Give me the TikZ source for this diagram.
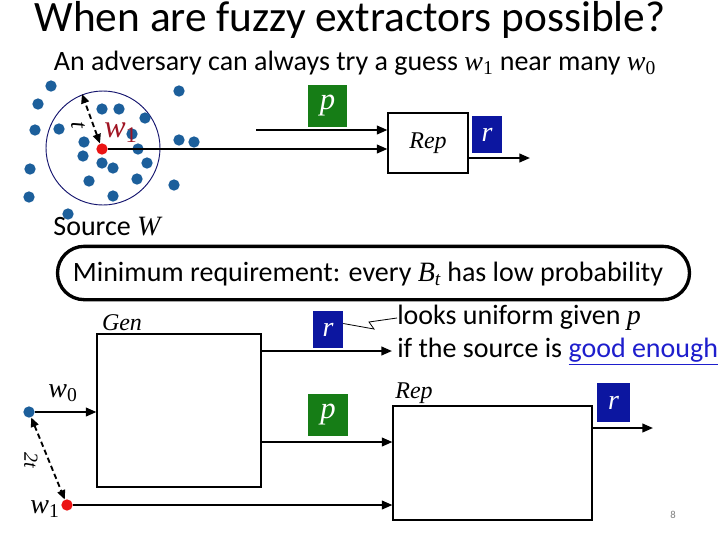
\documentclass[tikz,border=0pt]{standalone}
\usepackage{fontspec}
\setmainfont{Carlito}
\newfontfamily\tms{Liberation Serif}
\usetikzlibrary{arrows.meta}
\newcommand\mi[1]{{\tms\itshape #1}}
\newcommand\msub[2]{\mi{#1}\textsubscript{\tms\upshape #2}}
\definecolor{dotblue}{RGB}{28,95,155}
\definecolor{boxgreen}{RGB}{22,125,22}
\definecolor{boxblue}{RGB}{12,22,160}
\definecolor{dotred}{RGB}{235,20,20}
\definecolor{darkred}{RGB}{160,20,35}
\definecolor{navyline}{RGB}{20,20,110}
\definecolor{linkblue}{RGB}{30,30,205}
\tikzset{
  dot/.style={circle,fill=dotblue,inner sep=0pt,minimum size=8.5pt},
  rdot/.style={circle,fill=dotred,inner sep=0pt,minimum size=8.5pt},
  arr/.style={line width=1.5pt,-{Triangle[length=8pt,width=6.5pt]}},
  darr/.style={line width=1.4pt,dashed,dash pattern=on 4pt off 2.5pt,{Triangle[length=7pt,width=6pt]}-{Triangle[length=7pt,width=6pt]}},
  procbox/.style={draw,line width=0.8pt,fill=white,inner sep=0pt},
  gbox/.style={fill=boxgreen,text=white,inner sep=0pt,font=\tms\itshape\fontsize{23}{24}\selectfont},
  bbox/.style={fill=boxblue,text=white,inner sep=0pt,font=\tms\itshape\fontsize{21}{24}\selectfont},
  lbl/.style={font=\tms\itshape\fontsize{18}{20}\selectfont,inner sep=0pt},
  body/.style={font=\fontsize{21}{24}\selectfont,inner sep=0pt}
}
\begin{document}
\begin{tikzpicture}[x=0.75pt,y=-0.75pt]
\useasboundingbox[fill=white] (0,0) rectangle (720,540);
% title
\node[font=\fontsize{32.5}{36}\selectfont,inner sep=0pt] (title) at (350,20) {When are fuzzy extractors possible?};
\node[body] (sub) at (355,63) {An adversary can always try a guess \msub{w}{1} near many \msub{w}{0}};
% source ball
\node[circle,draw=navyline,line width=0.7pt,minimum size=85.5pt,inner sep=0pt] (ball) at (103,148) {};
\foreach \x/\y [count=\i] in {51/86,38/104,179/91,102/109,119/109,145/118,35/130,59/129,132/134,84/142,179/140,194/142,138/149,83/156,102/163,113/168,147/163,30/169,89/181,137/179,174/185,29/197,113/196,68/214}
  \node[dot] (d\i) at (\x,\y) {};
\node[rdot] (w1top) at (102,149) {};
\node[font=\tms\itshape\fontsize{24}{26}\selectfont,text=darkred,inner sep=0pt] (w1toplbl) at (121,133) {w\textsubscript{\upshape 1}};
\coordinate (rim) at (82,94);
\draw[darr] (w1top) -- (rim);
\node[lbl,rotate=-85] (tlbl) at (78,125) {t};
\node[body] (src) at (107,227) {Source \mi{W}};
% top Rep
\node[procbox,minimum width=60pt,minimum height=45pt] (rep1) at (428,143) {};
\node[lbl] (rep1lbl) at (rep1) {Rep};
\node[gbox,minimum width=29pt,minimum height=31.5pt] (p1) at (327.5,106) {p};
\node[bbox,minimum width=22.5pt,minimum height=27.5pt] (r1) at (487,134.5) {r};
\coordinate (pin) at (256,130);
\draw[arr] (pin) -- (pin -| rep1.west);
\draw[arr] (w1top.east) -- (w1top -| rep1.west);
\coordinate (rout1) at (530,158);
\draw[arr] (rep1.east |- rout1) -- (rout1);
% requirement box
\node[draw,line width=2.5pt,rounded corners=20pt,minimum width=474pt,minimum height=40pt,inner sep=0pt] (req) at (373.5,273) {};
\node[body] (reqtxt) at (368,274) {Minimum requirement: every \mi{B}\textsubscript{\tms\itshape t} has low probability};
% Gen
\node[procbox,minimum width=123pt,minimum height=114.75pt] (gen) at (179,410.5) {};
\node[lbl] (genlbl) at (122,323) {Gen};
\node[dot] (w0) at (29,412) {};
\node[font=\tms\itshape\fontsize{21}{24}\selectfont,inner sep=0pt] (w0lbl) at (63,393) {w\textsubscript{\upshape 0}};
\draw[arr] (w0.east) -- (gen.west |- w0);
\node[rdot] (w1) at (67,505) {};
\node[font=\tms\itshape\fontsize{21}{24}\selectfont,inner sep=0pt] (w1lbl) at (45,509) {w\textsubscript{\upshape 1}};
\draw[darr] (w0) -- (w1);
\node[font=\tms\itshape\fontsize{15}{16}\selectfont,inner sep=0pt,rotate=-90] (ttlbl) at (31,460) {2t};
% Rep bottom
\node[procbox,minimum width=149.25pt,minimum height=85.5pt] (rep2) at (492.5,463) {};
\node[lbl] (rep2lbl) at (414,393) {Rep};
\node[bbox,minimum width=22.5pt,minimum height=27.5pt] (r2) at (328,329.5) {r};
\node[gbox,minimum width=30pt,minimum height=31.5pt] (p2) at (328,415) {p};
\node[bbox,minimum width=25pt,minimum height=29pt] (r3) at (613.5,402.5) {r};
\coordinate (genr) at (392,351);
\draw[arr] (gen.east |- genr) -- (genr);
\coordinate (genp) at (0,442);
\draw[arr] (gen.east |- genp) -- (rep2.west |- genp);
\draw[arr] (w1.east) -- (rep2.west |- w1);
\coordinate (rout2) at (653,428);
\draw[arr] (rep2.east |- rout2) -- (rout2);
% callout text
\node[body,anchor=west] (look) at (397,318) {looks uniform given \mi{p}};
\node[body,anchor=west] (iftxt) at (397,352) {if the source is \textcolor{linkblue}{\underline{good enough}}};
\draw[line width=0.6pt] (r2.east) ++(0,-6) -- (374,329) -- (369,322) -- (look.west);
\node[font=\fontsize{8}{9}\selectfont,text=gray,inner sep=0pt] (pg) at (673,515) {8};
\end{tikzpicture}
\end{document}
